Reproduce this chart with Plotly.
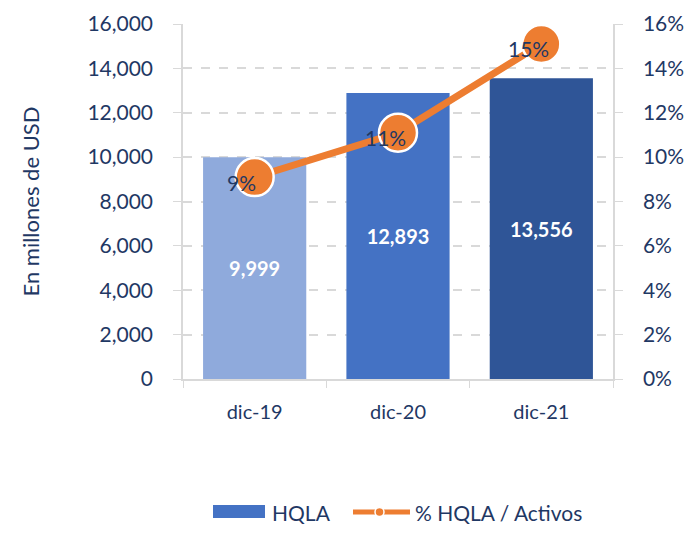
import plotly.graph_objects as go

categories = ["dic-19", "dic-20", "dic-21"]
hqla = [9999, 12893, 13556]
pct_hqla_activos = [9.1, 11.1, 15.1]
pct_labels = ["9%", "11%", "15%"]
bar_colors = ["#8FAADC", "#4472C4", "#2F5597"]
left_ticks = [0, 2000, 4000, 6000, 8000, 10000, 12000, 14000, 16000]
right_ticks = [0, 2, 4, 6, 8, 10, 12, 14, 16]
right_tick_labels = ["0%", "2%", "4%", "6%", "8%", "10%", "12%", "14%", "16%"]
legend_names = ["HQLA", "% HQLA / Activos"]

NAVY = "#1F3864"
ORANGE = "#ED7D31"
BLUE = "#4472C4"
GRID = "#D9D9D9"
FONT = "Lato"

# page has an 8px body margin; plot area target in page px: x 183-613, y 24-379
W, H = 684, 526
ML, MR, MT, MB = 175, 79, 16, 155
PX0, PX1, PY0, PY1 = 183, 613, 24, 379


def px(x):
    return (x - PX0) / (PX1 - PX0)


def py(y):
    return (PY1 - y) / (PY1 - PY0)


fig = go.Figure()

fig.add_trace(go.Bar(
    x=categories, y=hqla, name=legend_names[0],
    marker=dict(color=bar_colors, line=dict(width=0)),
    text=[f"{v:,}" for v in hqla],
    textposition="inside", insidetextanchor="middle",
    textfont=dict(color="white", size=20, family=FONT, weight="bold"),
    showlegend=False, hoverinfo="skip",
))

fig.add_trace(go.Scatter(
    x=categories, y=pct_hqla_activos, yaxis="y2", name=legend_names[1],
    mode="lines+markers",
    line=dict(color=ORANGE, width=7),
    marker=dict(size=38, color=ORANGE, line=dict(color="white", width=2.5)),
    showlegend=False, hoverinfo="skip",
))

for c, v, t in zip(categories, pct_hqla_activos, pct_labels):
    fig.add_annotation(
        x=c, y=v, yref="y2", text=t, showarrow=False,
        xshift=-13, yshift=-5,
        font=dict(color=NAVY, size=21, family=FONT),
    )

# manual legend (Excel-style symbols)
fig.add_shape(type="rect", xref="paper", yref="paper",
              x0=px(213), x1=px(265), y0=py(518), y1=py(505),
              fillcolor=BLUE, line=dict(width=0))
fig.add_annotation(xref="paper", yref="paper", x=px(270), y=py(512),
                   xanchor="left", yanchor="middle", showarrow=False,
                   text=legend_names[0], font=dict(size=21, color=NAVY, family=FONT))
fig.add_shape(type="line", xref="paper", yref="paper",
              x0=px(353), x1=px(410), y0=py(512), y1=py(512),
              line=dict(color=ORANGE, width=5))
fig.add_shape(type="circle", xref="paper", yref="paper",
              x0=px(375), x1=px(384), y0=py(516.5), y1=py(507.5),
              fillcolor=ORANGE, line=dict(color="white", width=1.5))
fig.add_annotation(xref="paper", yref="paper", x=px(413), y=py(512),
                   xanchor="left", yanchor="middle", showarrow=False,
                   text=legend_names[1], font=dict(size=21, color=NAVY, family=FONT))

fig.update_layout(
    width=W, height=H,
    margin=dict(l=ML, r=MR, t=MT, b=MB, autoexpand=False),
    paper_bgcolor="white", plot_bgcolor="white",
    font=dict(family=FONT, color=NAVY, size=21),
    barmode="overlay", bargap=0.28, showlegend=False,
    xaxis=dict(
        type="category", showgrid=False,
        showline=True, linecolor=GRID, linewidth=1.5,
        ticks="outside", tickson="boundaries", ticklen=7, tickcolor=GRID,
        tickfont=dict(size=20, color=NAVY), ticklabelstandoff=14,
    ),
    yaxis=dict(
        range=[0, 16000], tickvals=left_ticks, tickformat=",",
        showgrid=True, gridcolor=GRID, griddash="dash", gridwidth=1.5,
        showline=True, linecolor=GRID, linewidth=1.5,
        ticks="outside", ticklen=8, tickcolor=GRID,
        tickfont=dict(size=21, color=NAVY), ticklabelstandoff=16,
        zeroline=False,
        title=dict(text="En millones de USD", font=dict(size=22, color=NAVY), standoff=42),
    ),
    yaxis2=dict(
        range=[0, 16], tickvals=right_ticks, ticktext=right_tick_labels,
        overlaying="y", side="right", showgrid=False,
        showline=True, linecolor=GRID, linewidth=1.5,
        ticks="outside", ticklen=8, tickcolor=GRID,
        tickfont=dict(size=21, color=NAVY), ticklabelstandoff=16,
        zeroline=False,
    ),
)

fig.write_html("out.html")
